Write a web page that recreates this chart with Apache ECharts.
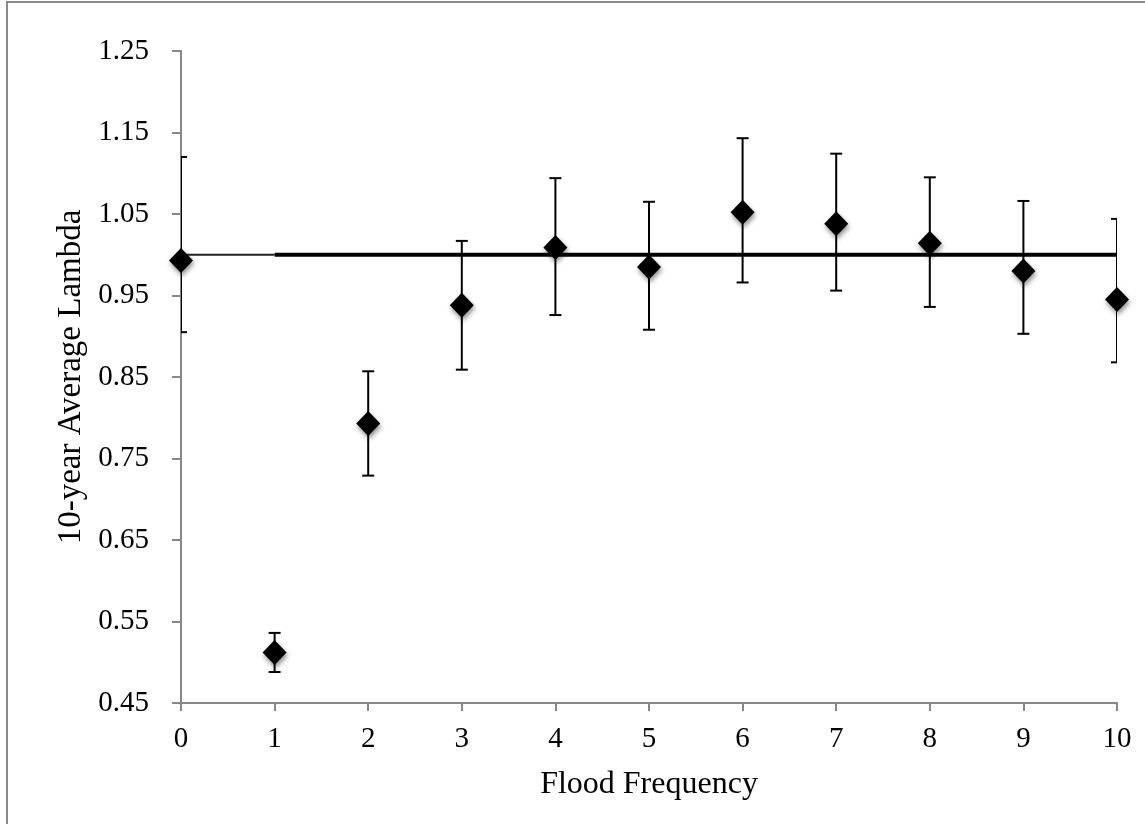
<!DOCTYPE html>
<html>
<head>
<meta charset="utf-8">
<script src="https://cdn.jsdelivr.net/npm/echarts@6/dist/echarts.min.js"></script>
<style>html,body{margin:0;padding:0;background:#fff;}#c{width:1145px;height:824px;}</style>
</head>
<body>
<div id="c"></div>
<script>
const floodFreq = [0, 1, 2, 3, 4, 5, 6, 7, 8, 9, 10];
const lambdaMean = [0.993, 0.512, 0.793, 0.938, 1.009, 0.985, 1.052, 1.038, 1.014, 0.980, 0.945];
const lambdaUpper = [1.120, 0.536, 0.857, 1.017, 1.094, 1.065, 1.143, 1.124, 1.095, 1.066, 1.044];
const lambdaLower = [0.905, 0.488, 0.729, 0.859, 0.926, 0.908, 0.966, 0.956, 0.936, 0.903, 0.868];
const yTicks = [0.45, 0.55, 0.65, 0.75, 0.85, 0.95, 1.05, 1.15, 1.25];
const refThin = [[0, 1], [1, 1]];
const refThick = [[1, 1], [10, 1]];

const font = 'Liberation Serif';
const axisGrey = '#878787';

const chart = echarts.init(document.getElementById('c'), null, {renderer: 'canvas'});
chart.setOption({
  animation: false,
  backgroundColor: '#fff',
  graphic: [{
    type: 'rect', silent: true, z: -1,
    shape: {x: 7, y: 2, width: 1160, height: 840},
    style: {fill: 'none', stroke: '#8a8a8a', lineWidth: 2}
  }],
  grid: {left: 181, right: 28, top: 51, bottom: 121, containLabel: false},
  xAxis: {
    type: 'value', min: 0, max: 10, interval: 1,
    name: 'Flood Frequency', nameLocation: 'middle', nameGap: 66,
    nameTextStyle: {fontFamily: font, fontSize: 32, color: '#000'},
    axisLine: {show: true, lineStyle: {color: axisGrey, width: 2}},
    axisTick: {show: true, inside: false, length: 8, lineStyle: {color: axisGrey, width: 2}},
    axisLabel: {fontFamily: font, fontSize: 29, color: '#000', margin: 22},
    splitLine: {show: false}
  },
  yAxis: {
    type: 'value', min: 0.45, max: 1.25,
    name: '10-year Average Lambda', nameLocation: 'middle', nameGap: 91, nameRotate: 90,
    nameTextStyle: {fontFamily: font, fontSize: 33, color: '#000'},
    axisLine: {show: true, lineStyle: {color: axisGrey, width: 2}},
    axisTick: {show: true, inside: false, length: 9, customValues: yTicks, lineStyle: {color: axisGrey, width: 2}},
    axisLabel: {fontFamily: font, fontSize: 29, color: '#000', margin: 32, customValues: yTicks,
      formatter: v => Number(v).toFixed(2)},
    splitLine: {show: false}
  },
  series: [
    {
      type: 'custom', clip: true, z: 2,
      data: floodFreq.map((x, i) => [x, lambdaLower[i], lambdaUpper[i]]),
      renderItem: function (params, api) {
        const lo = api.coord([api.value(0), api.value(1)]);
        const hi = api.coord([api.value(0), api.value(2)]);
        const hw = 6;
        const st = {stroke: '#000', lineWidth: 2, fill: null};
        return {
          type: 'group',
          children: [
            {type: 'line', shape: {x1: lo[0], y1: lo[1], x2: hi[0], y2: hi[1]}, style: st},
            {type: 'line', shape: {x1: lo[0] - hw, y1: lo[1], x2: lo[0] + hw, y2: lo[1]}, style: st},
            {type: 'line', shape: {x1: hi[0] - hw, y1: hi[1], x2: hi[0] + hw, y2: hi[1]}, style: st}
          ]
        };
      }
    },
    {
      type: 'line', data: refThin, symbol: 'none', z: 3,
      lineStyle: {color: '#222', width: 2}
    },
    {
      type: 'line', data: refThick, symbol: 'none', z: 3,
      lineStyle: {color: '#000', width: 4}
    },
    {
      type: 'scatter', z: 5,
      data: floodFreq.map((x, i) => [x, lambdaMean[i]]),
      symbol: 'diamond', symbolSize: [24, 25],
      itemStyle: {color: '#000', opacity: 1, shadowColor: 'rgba(0,0,0,0.45)', shadowBlur: 5, shadowOffsetX: 1, shadowOffsetY: 3}
    }
  ]
});
</script>
</body>
</html>
